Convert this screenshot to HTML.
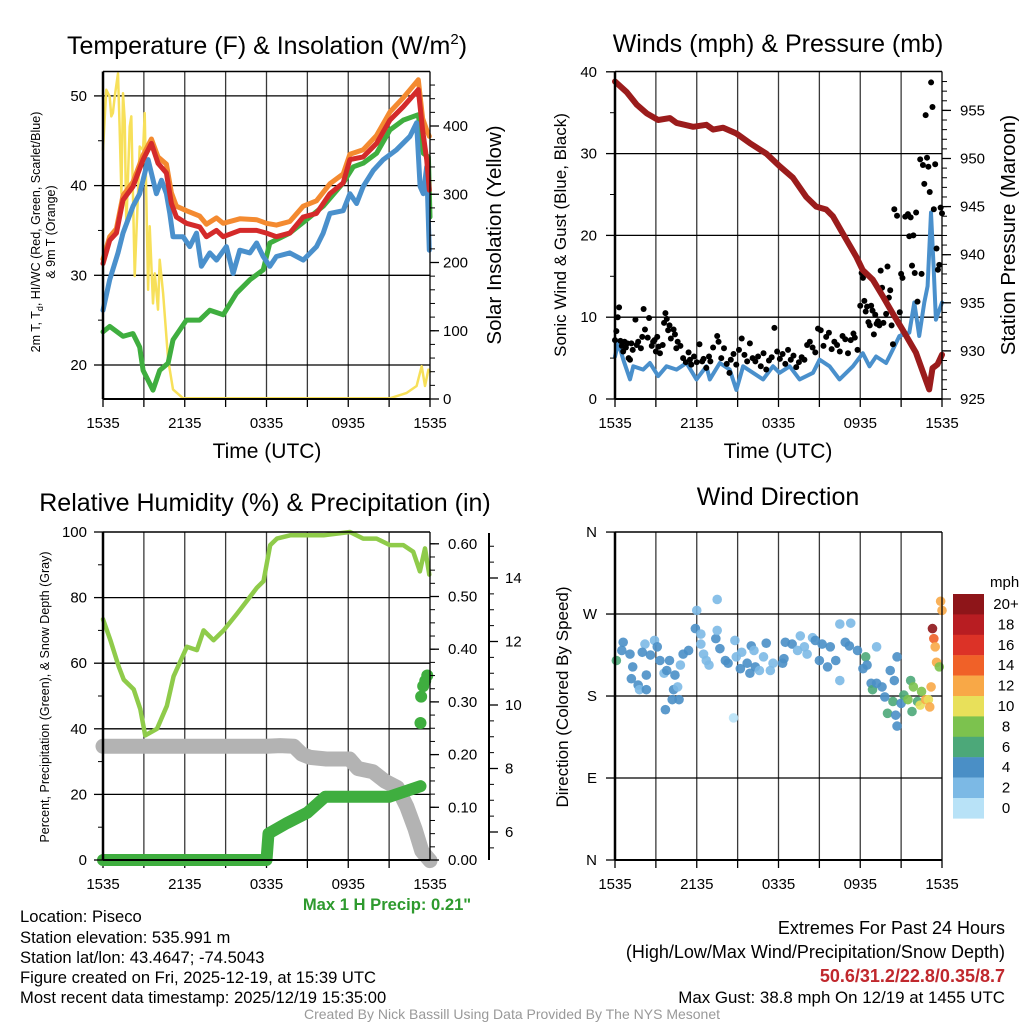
<!DOCTYPE html>
<html><head><meta charset="utf-8"><style>
html,body{margin:0;padding:0;background:#fff;}
svg{display:block;font-family:"Liberation Sans",Arial,sans-serif;}
</style></head><body>
<svg id="chart" width="1024" height="1024" viewBox="0 0 1024 1024" xmlns="http://www.w3.org/2000/svg">
<g font-size="25" text-anchor="middle" fill="#000">
<text x="267" y="54">Temperature (F) &amp; Insolation (W/m<tspan dy="-10" font-size="15">2</tspan><tspan dy="10">)</tspan></text>
<text x="778" y="52">Winds (mph) &amp; Pressure (mb)</text>
<text x="265" y="511">Relative Humidity (%) &amp; Precipitation (in)</text>
<text x="778" y="505">Wind Direction</text>
</g>
<g fill="#000" text-anchor="middle">
<text x="267" y="458" font-size="21">Time (UTC)</text>
<text x="778" y="458" font-size="21">Time (UTC)</text>
<text transform="translate(40,232) rotate(-90)" font-size="12.5">2m T, T<tspan dy="3" font-size="9">d</tspan><tspan dy="-3">, HI/WC (Red, Green, Scarlet/Blue)</tspan></text>
<text transform="translate(55,232) rotate(-90)" font-size="12.5">&amp; 9m T (Orange)</text>
<text transform="translate(501,235) rotate(-90)" font-size="20.5">Solar Insolation (Yellow)</text>
<text transform="translate(566,235) rotate(-90)" font-size="17">Sonic Wind &amp; Gust (Blue, Black)</text>
<text transform="translate(1015,235) rotate(-90)" font-size="20.5">Station Pressure (Maroon)</text>
<text transform="translate(49,697) rotate(-90)" font-size="12.5">Percent, Precipitation (Green), &amp; Snow Depth (Gray)</text>
<text transform="translate(568,697) rotate(-90)" font-size="17">Direction (Colored By Speed)</text>
</g>
<g id="plots"></g>
<g font-size="16.6" fill="#000">
<text x="20" y="922">Location: Piseco</text>
<text x="20" y="943">Station elevation: 535.991 m</text>
<text x="20" y="963">Station lat/lon: 43.4647; -74.5043</text>
<text x="20" y="983">Figure created on Fri, 2025-12-19, at 15:39 UTC</text>
<text x="20" y="1003">Most recent data timestamp: 2025/12/19 15:35:00</text>
<text x="387" y="910" text-anchor="middle" font-size="16.6" font-weight="bold" fill="#2e9a2e">Max 1 H Precip: 0.21"</text>
<text x="1005" y="934" text-anchor="end" font-size="18">Extremes For Past 24 Hours</text>
<text x="1005" y="958" text-anchor="end" font-size="18">(High/Low/Max Wind/Precipitation/Snow Depth)</text>
<text x="1005" y="982" text-anchor="end" font-size="18" font-weight="bold" fill="#c0282d">50.6/31.2/22.8/0.35/8.7</text>
<text x="1005" y="1003" text-anchor="end" font-size="16.9">Max Gust: 38.8 mph On 12/19 at 1455 UTC</text>
<text x="512" y="1019" text-anchor="middle" font-size="14" fill="#999">Created By Nick Bassill Using Data Provided By The NYS Mesonet</text>
</g>
</svg>
<script>
// ---------- data ----------
const xTickLabels = ["1535","2135","0335","0935","1535"];
const redHours = [0,0.49,0.98,1.47,2.2,2.94,3.55,4.04,4.65,5.02,5.39,6.12,7.1,7.59,8.33,8.82,10.04,11.27,12,12.73,13.71,14.69,15.67,16.65,17.63,18.12,19.1,20.08,21.06,22.04,23.14,23.46,23.76,23.95];
const redVals = [31.3,33.9,34.7,38.4,39.9,42.9,44.7,42.5,41.4,38,36.5,35.8,35.4,34.3,35,34.3,35,35,34.7,34.3,34.7,36.5,36.9,39.1,40.3,42.9,43.2,44.7,47.3,48.8,50.7,46.2,42.9,39.5];
const orangeVals = [31.8,34.3,35.2,38.9,40.4,43.4,45.2,43.2,42.4,39.2,37.7,37.2,36.6,35.7,36.4,35.8,36.3,36.2,35.8,35.6,36,37.7,38.3,40.2,41.3,43.5,44,45.6,48.2,49.8,51.8,47.5,46.2,45.5];
const blueHours = [0,0.49,1.1,1.47,2.2,2.69,3.31,3.92,4.29,4.65,4.9,5.14,5.88,6.37,6.86,7.22,7.84,8.33,9.06,9.55,10.04,10.78,11.27,11.76,12.24,12.73,13.71,14.69,15.67,16.16,16.65,17.63,18.12,18.61,19.1,19.84,20.57,21.55,22.53,23.02,23.27,23.51,23.76,23.95];
const blueVals = [26.1,29.5,32.5,34.7,37.7,39.1,42.9,39.1,40.6,39.1,36.9,34.3,34.3,33.2,34.7,31,32.5,31.7,33.2,30.2,32.8,32.5,33.6,32.1,31,32.1,32.5,31.7,33.2,34.7,36.9,37.2,39.1,38,39.9,41.7,42.9,44,45.5,47,39.9,39.1,42.1,32.8];
const greenHours = [0,0.49,1.47,2.2,2.69,2.94,3.67,4.16,4.78,5.14,6.12,7.1,7.84,8.82,9.8,10.78,11.76,12.24,13.71,14.94,16.16,17.63,18.37,19.1,20.08,21.06,22.04,23.14,23.51,23.88,24];
const greenVals = [23.7,24.3,23.2,23.5,22,19.4,17.2,19.4,20.2,22.8,25,25,26.1,25.6,28,29.5,30.6,33.6,34.7,36.2,37.7,40.3,42.1,42.5,43.6,46.2,47.3,47.9,43.6,43.2,36.5];
const solarHours = [0,0.12,0.24,0.49,0.61,0.73,0.86,1.1,1.22,1.35,1.47,1.59,1.71,1.96,2.08,2.33,2.57,2.69,2.94,3.06,3.31,3.43,3.67,3.8,4.04,4.16,4.41,4.78,5.14,5.88,21.06,22.29,23.02,23.39,23.63,23.88,24];
const solarVals = [365,409,453,443,414,419,443,477,399,301,448,409,253,399,414,180,301,370,365,419,160,253,140,184,131,204,155,58,14,1,1,9,19,48,19,43,40];
const presHours = [0,0.86,1.59,2.32,3.17,4.03,4.52,5.74,6.71,7.2,7.94,8.91,9.89,11.11,12.08,13.06,14.04,14.77,15.5,15.99,16.72,17.7,18.18,18.92,19.65,20.38,21.11,22.09,22.7,23.06,23.3,23.67,24];
const presVals = [958,956.9,955.6,954.7,954,954.2,953.7,953.3,953.5,953,953.2,952.6,951.6,950.5,949.2,948,946,945,944.7,944,942.2,939.8,938.4,937.4,935.7,933.9,932.2,929.8,927.4,926,928.2,928.6,929.6];
const windHours = [0,0.24,0.61,1.1,1.34,2.07,2.56,3.17,3.78,4.52,5.25,5.98,6.71,6.96,7.69,8.42,8.91,9.4,10.13,10.87,11.6,12.08,12.82,13.55,14.53,15.02,15.75,16.48,17.46,18.19,18.68,19.16,19.9,20.38,20.87,21.6,21.97,22.33,22.7,22.94,23.19,23.38,23.55,24];
const windVals = [5.2,6.9,4.8,2.4,4,3.6,4.4,2.8,4,3.6,4.4,2.4,4,2.4,4.4,3.6,1.1,4,3.2,2.4,4,3.2,4,2.4,3.2,4.8,4,2.4,4,5.6,4,5.2,4.4,6,7.7,8.1,11.8,7.7,11.8,13.8,22.8,16.2,9.7,11.8];
const gustHours = [0,0.1,0.2,0.3,0.4,0.5,0.6,0.7,0.8,0.9,1,1.1,1.2,1.3,1.5,1.6,1.7,1.9,2,2.1,2.2,2.4,2.5,2.7,2.8,2.9,3,3.1,3.2,3.3,3.5,3.6,3.7,3.8,3.9,4,4.1,4.3,4.4,4.5,4.6,4.8,5,5.2,5.4,5.5,5.6,5.8,6,6.2,6.4,6.5,6.7,6.9,7,7.2,7.5,7.6,7.8,8,8.2,8.4,8.5,8.7,8.9,9.1,9.3,9.5,9.7,9.9,10.1,10.3,10.5,10.7,10.9,11.1,11.3,11.5,11.7,11.9,12.1,12.3,12.5,12.7,12.9,13.1,13.3,13.5,13.7,13.9,14.1,14.3,14.5,14.7,14.9,15.1,15.3,15.5,15.7,15.9,16.1,16.3,16.5,16.7,16.9,17.1,17.3,17.5,17.6,17.8,18,18.1,18.2,18.3,18.4,18.5,18.6,18.7,18.8,18.9,19,19.1,19.2,19.3,19.4,19.5,19.6,19.7,19.9,20,20.1,20.2,20.3,20.4,20.5,20.7,20.9,21,21.1,21.3,21.5,21.6,21.7,21.8,21.9,22,22.1,22.2,22.4,22.5,22.6,22.7,22.8,22.9,23,23.1,23.2,23.3,23.4,23.5,23.6,23.7,23.8,23.9,24];
const gustVals = [7.2,8.3,10,11.2,7.1,6.5,5.8,7,6.3,6.8,5,4.8,6.8,6,9.7,6.6,7,6.2,7.6,11,8.5,7.5,9.9,6.5,7,7.2,5.8,7.6,6.4,5.6,6.6,9.3,10.5,9.8,8.4,9,7.4,8.5,7.9,6.2,7,6.5,5,4.5,5.7,4.8,4.2,5.2,4.5,6.7,4.6,4.9,3.8,5.2,4.6,6.3,7.7,7,5,6.2,4.3,3.2,4.8,5.5,4.2,6,7.4,5.4,4.6,6.8,5,4.6,5.2,4,5.6,3.6,4.7,5.1,8.7,5.8,4.9,5.5,4.3,6,4.8,5.3,3.9,4.5,5.1,4.8,6.6,7,6.3,5.7,8.6,8.4,6.5,7.6,8.1,6.1,7,6.6,5.8,7.7,7.3,5.6,7.2,8,7.5,6,11.4,15.4,14.8,12,10.7,11.3,9.4,9,11.4,10.8,7.9,10.3,9.2,9.5,9,15.7,13.6,9.3,10.4,16.2,12.4,13.3,9,6.7,23.2,22.4,10.6,15.3,14.8,22.3,22.6,19.9,22.2,16.3,20,15.4,22.8,11.9,29.3,15.3,28.6,26.3,34.7,29.5,28.4,25.3,38.7,35.7,23.2,28.7,18.4,15.8,16.4,23.4,22.7];
const rhHours = [0,0.54,1.15,1.52,2.25,2.74,3.1,3.96,4.69,5.18,6.16,6.89,7.38,8.11,8.85,9.82,10.56,11.29,11.78,12.27,12.76,13.74,14.96,16.19,18.13,19.1,20.08,21.06,22.04,22.77,23.26,23.63,23.95];
const rhVals = [73.4,67,59,55,52,46,38,40,47,56,65,64,70,67,70,75,79,83,85,96,98,99,99,99,100,98,98,96,96,94,88,95,87];
const precipHours = [0,12.0,12.15,13.5,15,16.3,21,23.3];
const precipVals = [0,0,0.05,0.07,0.09,0.12,0.12,0.14];
const precipDotHours = [23.3,23.35,23.5,23.65,23.8];
const precipDotVals = [0.26,0.31,0.33,0.34,0.35];
const snowHours = [0,12,13,14,14.6,15.2,16.4,18.1,18.7,19.8,20.7,21.6,22.3,22.9,23.4,24];
const snowVals = [8.7,8.7,8.72,8.7,8.45,8.35,8.3,8.3,8,7.9,7.6,7.4,6.8,6.1,5.4,5.1];
const dirHours = [0.1,0.6,0.5,1.1,1.3,1.2,1.7,1.8,2.3,2.3,2.2,2.0,2.6,2.9,3.1,3.3,3.6,3.8,4.0,4.4,4.3,4.6,4.2,4.7,3.7,4.8,5.0,5.4,5.9,6.0,6.3,6.3,6.5,6.7,6.9,7.4,7.5,7.5,7.7,8.1,8.3,8.7,8.8,8.9,9.2,9.3,9.7,10.0,10.2,10.3,9.9,10.6,10.9,11.1,11.4,11.6,12.3,12.4,12.5,13.0,13.4,13.6,13.9,14.1,14.5,14.7,15.0,15.2,15.6,15.8,16.2,16.5,16.5,16.9,17.2,17.3,17.8,18.2,18.4,18.5,18.8,18.9,19.2,19.2,19.6,19.8,20.0,20.2,20.4,20.5,20.6,20.7,20.7,21.0,21.2,21.5,21.7,21.8,21.9,22.2,22.4,22.5,22.8,23.0,23.1,23.2,23.3,23.4,23.5,23.6,23.8,23.9,24.0];
const dirVals = [219,239,230,226,212,199,192,187,187,203,237,228,225,241,234,219,205,208,219,203,187,190,176,176,165,214,226,230,254,274,237,248,226,219,214,243,252,286,232,219,216,156,241,223,210,228,216,235,230,212,205,208,223,238,208,216,216,221,239,237,230,246,234,226,244,241,219,237,212,234,219,259,197,239,235,260,230,210,223,214,194,187,234,194,190,179,161,208,174,197,159,223,147,172,181,176,197,163,190,174,170,185,176,176,168,190,254,243,234,217,212,284,274];
const dirSpeeds = [6,4,4,4,4,4,4,2,4,4,2,4,4,2,4,4,2,4,4,4,4,2,4,4,4,2,4,4,4,2,2,2,2,2,2,4,2,2,4,4,4,0,2,2,4,2,4,4,2,4,4,2,2,4,2,2,4,4,4,4,2,2,2,2,2,4,4,4,4,4,4,2,2,4,4,2,4,4,6,4,4,6,2,4,4,4,6,4,6,4,4,4,4,4,6,8,6,6,8,6,10,8,12,10,12,12,20,14,12,12,8,12,12];
const speedBins = ["0","2","4","6","8","10","12","14","16","18","20+"];
const speedColors = ["#b8e2f7","#7cb9e5","#4a8fc6","#4ca879","#7cc24e","#e8e05a","#f8a847","#f06128","#dc3227","#b81d22","#8e1519"];

// ---------- helpers ----------
const NS = "http://www.w3.org/2000/svg";
const root = document.getElementById("plots");
function el(tag, parent) { const e = document.createElementNS(NS, tag); parent.appendChild(e); return e; }
function setA(e, o) { for (const k in o) e.setAttribute(k, o[k]); return e; }
function hx(p, h) { return p.x0 + h / 24 * (p.x1 - p.x0); }

const P1 = {x0:103, x1:430, top:71.5, bot:399};
const P2 = {x0:615, x1:942, top:71.5, bot:399};
const P3 = {x0:103, x1:430, top:532, bot:860};
const P4 = {x0:615, x1:942, top:532, bot:860};
const yTemp = v => 365 - (v - 20) * 8.97;
const ySolar = v => 399 - v * 0.6825;
const yWind = v => 399 - v * 8.18;
const yPres = v => 399 - (v - 925) * 9.62;
const yPct = v => 860 - v * 3.28;
const yPrecip = v => 860 - v * 527;
const yDepth = v => 832 - (v - 6) * 31.75;
const yDir = v => 860 - v * 0.911;

function frame(p, name) {
  const g = el("g", root);
  
  
  for (let i = 1; i < 8; i++) {
    const x = hx(p, i * 3);
    setA(el("line", g), {x1:x, x2:x, y1:p.top, y2:p.bot, stroke:"#3a3a3a", "stroke-width":1.3});
  }
  const ax = el("g", root);
  
  
  for (let i = 0; i <= 8; i++) {
    const x = hx(p, i * 3);
    setA(el("line", ax), {x1:x, x2:x, y1:p.bot, y2:p.bot + 8, stroke:"#000", "stroke-width":1.3});
  }
  xTickLabels.forEach((t, i) => {
    const tx = el("text", ax);
    setA(tx, {x:hx(p, i * 6), y:p.bot + 29, "text-anchor":"middle", "font-size":15});
    tx.textContent = t;
  });
  return g;
}
function hline(p, y, g) { setA(el("line", g), {x1:p.x0, x2:p.x1, y1:y, y2:y, stroke:"#000", "stroke-width":1.3}); }
function border(p, name, sides) {
  const b = el("g", root);
  
  
  setA(el("line", b), {x1:p.x0, x2:p.x0, y1:p.top, y2:p.bot, stroke:"#000", "stroke-width":2.5});
  setA(el("line", b), {x1:p.x0, x2:p.x1, y1:p.bot, y2:p.bot, stroke:"#000", "stroke-width":2});
  setA(el("line", b), {x1:p.x0, x2:p.x1, y1:p.top, y2:p.top, stroke:"#000", "stroke-width":1.5});
  setA(el("line", b), {x1:p.x1, x2:p.x1, y1:p.top, y2:p.bot, stroke:"#000", "stroke-width":sides ? 2 : 1.3});
}
function yaxis(name, x, dir, majors, minors, fy, labels, anchorX, anchor, axisTop, axisBot) {
  const g = el("g", root);
  
  
  if (axisTop !== undefined) setA(el("line", g), {x1:x, x2:x, y1:axisTop, y2:axisBot, stroke:"#000", "stroke-width":2});
  minors.forEach(v => setA(el("line", g), {x1:x, x2:x + dir * 5, y1:fy(v), y2:fy(v), stroke:"#000", "stroke-width":1}));
  majors.forEach((v, i) => {
    setA(el("line", g), {x1:x, x2:x + dir * 9, y1:fy(v), y2:fy(v), stroke:"#000", "stroke-width":1.3});
    const t = el("text", g);
    setA(t, {x:anchorX, y:fy(v) + 5, "text-anchor":anchor, "font-size":15});
    t.textContent = labels[i];
  });
}
function range(a, b, s) { const r = []; for (let v = a; v <= b + 1e-9; v += s) r.push(+v.toFixed(4)); return r; }
function line(p, hours, vals, fy, color, w, name) {
  const pl = el("polyline", root);
  
  
  setA(pl, {points:hours.map((h, i) => hx(p, h).toFixed(1) + "," + fy(vals[i]).toFixed(1)).join(" "), fill:"none", stroke:color, "stroke-width":w, "stroke-linejoin":"round", "stroke-linecap":"round"});
}
function dots(p, hours, vals, fy, color, r, name) {
  const g = el("g", root);
  
  
  hours.forEach((h, i) => setA(el("circle", g), {cx:hx(p, h), cy:fy(vals[i]), r:r, fill:color}));
}

// ---------- panel 1 ----------
let g1 = frame(P1, "temperature");
[20,30,40,50].forEach(v => hline(P1, yTemp(v), g1));
line(P1, solarHours, solarVals, ySolar, "#f7e05a", 2.5, "solar-insolation-line");
line(P1, greenHours, greenVals, yTemp, "#3fae3f", 5, "heat-index-windchill-line");
line(P1, blueHours, blueVals, yTemp, "#4a90cc", 5, "dewpoint-line");
line(P1, redHours, orangeVals, yTemp, "#f48a30", 5, "nine-meter-temp-line");
line(P1, redHours, redVals, yTemp, "#d42a2a", 5, "two-meter-temp-line");
border(P1, "temperature");
yaxis("temperature-y-axis", P1.x0, -1, [20,30,40,50], [25,35,45], yTemp, ["20","30","40","50"], 87, "end");
yaxis("insolation-y-axis", P1.x1, 1, [0,100,200,300,400], range(20,460,20), ySolar, ["0","100","200","300","400"], 443, "start");

// ---------- panel 2 ----------
let g2 = frame(P2, "wind");
[10,20,30].forEach(v => hline(P2, yWind(v), g2));
line(P2, windHours, windVals, yWind, "#4a90cc", 4, "sonic-wind-line");
dots(P2, gustHours, gustVals, yWind, "#000", 3, "gust-points");
line(P2, presHours, presVals, yPres, "#9b1c1c", 6, "station-pressure-line");
border(P2, "wind");
yaxis("wind-y-axis", P2.x0, -1, [0,10,20,30,40], [5,15,25,35], yWind, ["0","10","20","30","40"], 597, "end");
yaxis("pressure-y-axis", P2.x1, 1, [925,930,935,940,945,950,955], range(926,958,1), yPres, ["925","930","935","940","945","950","955"], 960, "start");

// ---------- panel 3 ----------
let g3 = frame(P3, "humidity");
[20,40,60,80].forEach(v => hline(P3, yPct(v), g3));
line(P3, snowHours, snowVals, yDepth, "#b3b3b3", 15, "snow-depth-line");
line(P3, precipHours, precipVals, yPrecip, "#3fae3f", 12, "precipitation-line");
dots(P3, precipDotHours, precipDotVals, yPrecip, "#3fae3f", 6, "precipitation-points");
line(P3, rhHours, rhVals, yPct, "#8fcb4a", 4.5, "relative-humidity-line");
border(P3, "humidity");
yaxis("percent-y-axis", P3.x0, -1, [0,20,40,60,80,100], [10,30,50,70,90], yPct, ["0","20","40","60","80","100"], 87, "end");
yaxis("precip-y-axis", P3.x1, 1, [0,0.1,0.2,0.3,0.4,0.5,0.6], range(0.05,0.6,0.05).concat([0.025,0.075,0.125,0.175,0.225,0.275,0.325,0.375,0.425,0.475,0.525,0.575]), yPrecip, ["0.00","0.10","0.20","0.30","0.40","0.50","0.60"], 448, "start");
yaxis("snow-depth-y-axis", 489, 1, [6,8,10,12,14], range(5.5,15,0.5), yDepth, ["6","8","10","12","14"], 505, "start", 533, 860);

// ---------- panel 4 ----------
let g4 = frame(P4, "direction");
[90,180,270].forEach(v => hline(P4, yDir(v), g4));
const dg = el("g", root);


dirHours.forEach((h, i) => {
  const idx = Math.min(10, Math.floor(dirSpeeds[i] / 2));
  setA(el("circle", dg), {cx:hx(P4, h), cy:yDir(dirVals[i]), r:4.8, fill:speedColors[idx], "fill-opacity":0.9});
});
border(P4, "direction");
yaxis("direction-y-axis", P4.x0, -1, [0,90,180,270,360], [], yDir, ["N","E","S","W","N"], 597, "end");

// colorbar
const cb = el("g", root);


const cbt = el("text", cb);
setA(cbt, {x:990, y:587, "font-size":15});
cbt.textContent = "mph";
speedBins.forEach((lab, i) => {
  const k = speedBins.length - 1 - i;
  const y = 594 + i * 20.4;
  setA(el("rect", cb), {x:953, y:y, width:31, height:20.6, fill:speedColors[k]});
  const t = el("text", cb);
  setA(t, {x:1006, y:y + 15, "text-anchor":"middle", "font-size":15});
  t.textContent = speedBins[k];
});
</script>
</body></html>
